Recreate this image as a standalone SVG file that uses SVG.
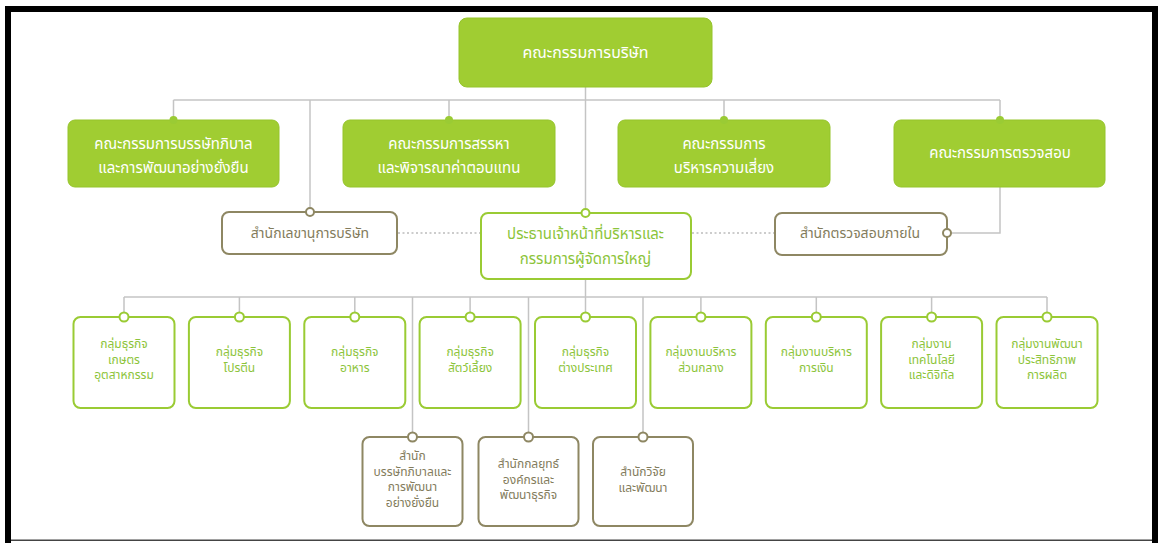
<svg xmlns="http://www.w3.org/2000/svg" width="1160" height="543" viewBox="0 0 1160 543">
<style>
text{font-family:"Noto Sans Thai","Noto Sans","DejaVu Sans",sans-serif;text-anchor:middle}
.board rect{fill:#a0cd32;stroke:#95c42b;stroke-width:1}
.board text{fill:#ffffff;font-size:15px}
.ceo rect{fill:#ffffff;stroke:#9acb34;stroke-width:2}
.ceo text{fill:#8cc43a;font-size:15px}
.office rect{fill:#ffffff;stroke:#8e8763;stroke-width:2}
.office text{fill:#837c5c;font-size:14px}
.grp rect{fill:#ffffff;stroke:#9acb34;stroke-width:2}
.grp text{fill:#8cc43a;font-size:12px}
.sub rect{fill:#ffffff;stroke:#8e8763;stroke-width:2}
.sub text{fill:#837c5c;font-size:12px}
#connectors path{stroke:#c4c4c4;stroke-width:1.5;fill:none}
#connectors path.dotted{stroke:#bcbcbc;stroke-width:1.5;stroke-dasharray:2 2.5}
.dot-g{fill:#9acb34}
.ring-g{fill:#ffffff;stroke:#9acb34;stroke-width:2}
.ring-o{fill:#ffffff;stroke:#8e8763;stroke-width:2}
</style>
<rect width="1160" height="543" fill="#ffffff"/>
<g id="frame">
<rect x="5" y="6" width="1153" height="6" fill="#000"/>
<rect x="5" y="6" width="6" height="537" fill="#000"/>
<rect x="1152" y="6" width="6" height="537" fill="#000"/>
<rect x="11" y="539.5" width="1141" height="1.5" fill="#444"/>
</g>
<g id="connectors">
<path d="M585.5 87 V213"/>
<path d="M173.5 100 H1000"/>
<path d="M173.5 100 V120 M449 100 V120 M724 100 V120 M1000 100 V120"/>
<path d="M310 100 V212"/>
<path d="M1000 187 V233 H947"/>
<path d="M585.5 279 V317"/>
<path d="M124 297 H1047"/>
<path d="M124 297 V317 M239.4 297 V317 M354.8 297 V317 M470.1 297 V317 M700.9 297 V317 M816.3 297 V317 M931.6 297 V317 M1047 297 V317"/>
<path d="M412.5 297 V437 M528.5 297 V437 M643 297 V437"/>
<path class="dotted" d="M398 233 H480 M692 233 H774"/>
</g>
<g id="n-board" class="board">
<rect x="459" y="18" width="253" height="69" rx="8"/>
<text x="585.5" y="58" style="font-size:16px">คณะกรรมการบริษัท</text>
</g>
<g id="n-governance" class="board">
<rect x="68" y="120" width="211" height="67" rx="7"/>
<circle class="dot-g" cx="173.5" cy="120" r="4"/>
<text><tspan x="173.5" y="149">คณะกรรมการบรรษัทภิบาล</tspan><tspan x="173.5" y="173">และการพัฒนาอย่างยั่งยืน</tspan></text>
</g>
<g id="n-nomination" class="board">
<rect x="343" y="120" width="212" height="67" rx="7"/>
<circle class="dot-g" cx="449" cy="120" r="4"/>
<text><tspan x="449" y="149">คณะกรรมการสรรหา</tspan><tspan x="449" y="173">และพิจารณาค่าตอบแทน</tspan></text>
</g>
<g id="n-risk" class="board">
<rect x="618" y="120" width="212" height="67" rx="7"/>
<circle class="dot-g" cx="724" cy="120" r="4"/>
<text><tspan x="724" y="149">คณะกรรมการ</tspan><tspan x="724" y="173">บริหารความเสี่ยง</tspan></text>
</g>
<g id="n-audit" class="board">
<rect x="894" y="120" width="211" height="67" rx="7"/>
<circle class="dot-g" cx="1000" cy="120" r="4"/>
<text x="1000" y="158">คณะกรรมการตรวจสอบ</text>
</g>
<g id="n-secretary" class="office">
<rect x="222" y="212" width="175" height="42" rx="7"/>
<circle class="ring-o" cx="310" cy="212" r="4"/>
<text x="310" y="238">สำนักเลขานุการบริษัท</text>
</g>
<g id="n-ceo" class="ceo">
<rect x="481" y="213" width="210" height="66" rx="7"/>
<circle class="ring-g" cx="585.5" cy="213" r="4"/>
<text><tspan x="585.5" y="239">ประธานเจ้าหน้าที่บริหารและ</tspan><tspan x="585.5" y="264">กรรมการผู้จัดการใหญ่</tspan></text>
</g>
<g id="n-internal-audit" class="office">
<rect x="775" y="213" width="172" height="42" rx="7"/>
<circle class="ring-o" cx="947" cy="233" r="4"/>
<text x="860" y="238">สำนักตรวจสอบภายใน</text>
</g>
<g id="n-agro" class="grp">
<rect x="73.5" y="317" width="101" height="91" rx="7"/>
<circle class="ring-g" cx="124" cy="317" r="4.5"/>
<text><tspan x="124" y="348">กลุ่มธุรกิจ</tspan><tspan x="124" y="363.5">เกษตร</tspan><tspan x="124" y="379">อุตสาหกรรม</tspan></text>
</g>
<g id="n-protein" class="grp">
<rect x="188.9" y="317" width="101" height="91" rx="7"/>
<circle class="ring-g" cx="239.4" cy="317" r="4.5"/>
<text><tspan x="239.4" y="356">กลุ่มธุรกิจ</tspan><tspan x="239.4" y="371.5">โปรตีน</tspan></text>
</g>
<g id="n-food" class="grp">
<rect x="304.3" y="317" width="101" height="91" rx="7"/>
<circle class="ring-g" cx="354.8" cy="317" r="4.5"/>
<text><tspan x="354.8" y="356">กลุ่มธุรกิจ</tspan><tspan x="354.8" y="371.5">อาหาร</tspan></text>
</g>
<g id="n-pet" class="grp">
<rect x="419.6" y="317" width="101" height="91" rx="7"/>
<circle class="ring-g" cx="470.1" cy="317" r="4.5"/>
<text><tspan x="470.1" y="356">กลุ่มธุรกิจ</tspan><tspan x="470.1" y="371.5">สัตว์เลี้ยง</tspan></text>
</g>
<g id="n-intl" class="grp">
<rect x="535" y="317" width="101" height="91" rx="7"/>
<circle class="ring-g" cx="585.5" cy="317" r="4.5"/>
<text><tspan x="585.5" y="356">กลุ่มธุรกิจ</tspan><tspan x="585.5" y="371.5">ต่างประเทศ</tspan></text>
</g>
<g id="n-central" class="grp">
<rect x="650.4" y="317" width="101" height="91" rx="7"/>
<circle class="ring-g" cx="700.9" cy="317" r="4.5"/>
<text><tspan x="700.9" y="356">กลุ่มงานบริหาร</tspan><tspan x="700.9" y="371.5">ส่วนกลาง</tspan></text>
</g>
<g id="n-finance" class="grp">
<rect x="765.8" y="317" width="101" height="91" rx="7"/>
<circle class="ring-g" cx="816.3" cy="317" r="4.5"/>
<text><tspan x="816.3" y="356">กลุ่มงานบริหาร</tspan><tspan x="816.3" y="371.5">การเงิน</tspan></text>
</g>
<g id="n-tech" class="grp">
<rect x="881.1" y="317" width="101" height="91" rx="7"/>
<circle class="ring-g" cx="931.6" cy="317" r="4.5"/>
<text><tspan x="931.6" y="348">กลุ่มงาน</tspan><tspan x="931.6" y="363.5">เทคโนโลยี</tspan><tspan x="931.6" y="379">และดิจิทัล</tspan></text>
</g>
<g id="n-efficiency" class="grp">
<rect x="996.5" y="317" width="101" height="91" rx="7"/>
<circle class="ring-g" cx="1047" cy="317" r="4.5"/>
<text><tspan x="1047" y="348">กลุ่มงานพัฒนา</tspan><tspan x="1047" y="363.5">ประสิทธิภาพ</tspan><tspan x="1047" y="379">การผลิต</tspan></text>
</g>
<g id="n-cg-office" class="sub">
<rect x="362.5" y="437" width="100" height="89" rx="7"/>
<circle class="ring-o" cx="412.5" cy="437" r="4.5"/>
<text><tspan x="412.5" y="460">สำนัก</tspan><tspan x="412.5" y="475.5">บรรษัทภิบาลและ</tspan><tspan x="412.5" y="491">การพัฒนา</tspan><tspan x="412.5" y="506.5">อย่างยั่งยืน</tspan></text>
</g>
<g id="n-strategy" class="sub">
<rect x="478.5" y="437" width="100" height="89" rx="7"/>
<circle class="ring-o" cx="528.5" cy="437" r="4.5"/>
<text><tspan x="528.5" y="468">สำนักกลยุทธ์</tspan><tspan x="528.5" y="483.5">องค์กรและ</tspan><tspan x="528.5" y="499">พัฒนาธุรกิจ</tspan></text>
</g>
<g id="n-rnd" class="sub">
<rect x="593" y="437" width="100" height="89" rx="7"/>
<circle class="ring-o" cx="643" cy="437" r="4.5"/>
<text><tspan x="643" y="476">สำนักวิจัย</tspan><tspan x="643" y="491.5">และพัฒนา</tspan></text>
</g>
</svg>
